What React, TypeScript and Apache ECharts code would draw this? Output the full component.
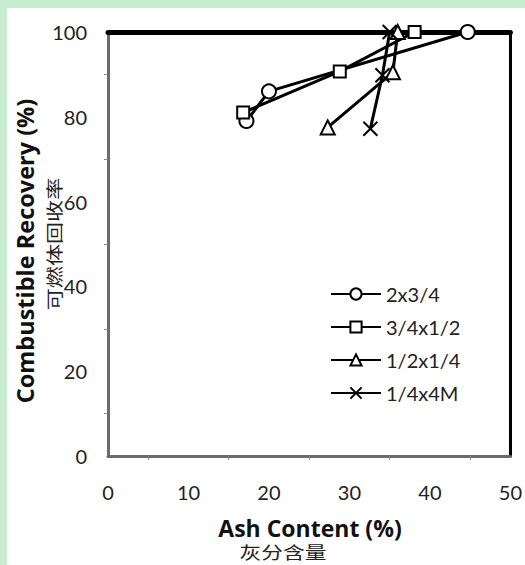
import React, { useEffect, useRef } from "react";
import * as echarts from "echarts";

const seriesNames = ["2x3/4", "3/4x1/2", "1/2x1/4", "1/4x4M"];
const s1: [number, number][] = [[17.2, 79], [20, 86], [44.7, 100]];
const s2: [number, number][] = [[16.8, 81], [28.8, 90.7], [38.1, 100]];
const s3: [number, number][] = [[27.3, 77.5], [35.4, 90.5], [36.0, 100]];
const s4: [number, number][] = [[32.6, 77.2], [34.1, 89.8], [35.0, 100]];
const xTicks = [0, 10, 20, 30, 40, 50];
const yTicks = [0, 20, 40, 60, 80, 100];

const X_SYMBOL = "path://M0,0L10,10M10,0L0,10";
const FONT = "Lato, 'Open Sans', sans-serif";
const TITLE_FONT = "'Open Sans', Lato, sans-serif";
const CJK = "'Noto Sans CJK SC'";

export default function App() {
  const ref = useRef<HTMLDivElement>(null);
  useEffect(() => {
    document.body.style.margin = "0";
    const chart = echarts.init(ref.current!, null, { renderer: "svg" });
    const mk = (name: string, data: [number, number][], symbol: string, size: number) => ({
      name,
      type: "line",
      data,
      symbol,
      symbolSize: size,
      showAllSymbol: true,
      lineStyle: { color: "#000", width: 3 },
      itemStyle: { color: "#fff", borderColor: "#000", borderWidth: 2 },
      z: 3,
    });
    const datas = [s1, s2, s3, s4];
    const syms = ["circle", "rect", "triangle", X_SYMBOL];
    const sizes = [14, 12, 14, 14];
    chart.setOption({
      animation: false,
      backgroundColor: "#fff",
      textStyle: { fontFamily: FONT },
      grid: { left: 101, right: 12, top: 24, bottom: 109 },
      xAxis: [
        {
          type: "value",
          min: 0,
          max: 50,
          interval: 10,
          position: "bottom",
          axisLine: { show: true, onZero: false, lineStyle: { color: "#6b6b6b", width: 3 } },
          axisTick: { show: false },
          minorTick: { show: true, splitNumber: 2, length: 4, lineStyle: { color: "#888" } },
          splitLine: { show: false },
          axisLabel: {
            color: "#222",
            fontSize: 20,
            margin: 26,
            fontFamily: FONT,
            formatter: (v: number) => (xTicks.includes(v) ? String(v) : ""),
          },
        },
        {
          type: "value",
          min: 0,
          max: 50,
          position: "top",
          axisLine: { show: true, onZero: false, lineStyle: { color: "#000", width: 5 } },
          axisTick: { show: false },
          axisLabel: { show: false },
          splitLine: { show: false },
        },
      ],
      yAxis: [
        {
          type: "value",
          min: 0,
          max: 100,
          interval: 20,
          position: "left",
          axisLine: { show: true, onZero: false, lineStyle: { color: "#6b6b6b", width: 3 } },
          axisTick: { show: false },
          minorTick: { show: true, splitNumber: 2, length: 4, lineStyle: { color: "#888" } },
          splitLine: { show: false },
          axisLabel: {
            color: "#222",
            fontSize: 20,
            margin: 21,
            fontFamily: FONT,
            formatter: (v: number) => (yTicks.includes(v) ? String(v) : ""),
          },
        },
        {
          type: "value",
          min: 0,
          max: 100,
          position: "right",
          axisLine: { show: true, onZero: false, lineStyle: { color: "#000", width: 3 } },
          axisTick: { show: false },
          axisLabel: { show: false },
          splitLine: { show: false },
        },
      ],
      legend: {
        orient: "vertical",
        left: 323,
        top: 276,
        padding: 0,
        itemWidth: 50,
        itemHeight: 14,
        itemGap: 13,
        textStyle: { fontSize: 20, color: "#222", fontFamily: FONT },
        data: seriesNames,
      },
      series: seriesNames.map((n, i) => mk(n, datas[i], syms[i], sizes[i])),
      graphic: [
        {
          type: "text",
          x: 18,
          y: 243,
          rotation: Math.PI / 2,
          style: {
            text: "Combustible Recovery (%)",
            fontSize: 23.5,
            fontWeight: "bold",
            fill: "#111",
            fontFamily: TITLE_FONT,
            align: "center",
            verticalAlign: "middle",
          },
        },
        {
          type: "text",
          x: 47,
          y: 236,
          rotation: Math.PI / 2,
          scaleX: 1.3,
          style: {
            text: "可燃体回收率",
            fontSize: 17,
            fill: "#222",
            fontFamily: CJK,
            align: "center",
            verticalAlign: "middle",
          },
        },
        {
          type: "text",
          x: 303,
          y: 520,
          style: {
            text: "Ash Content (%)",
            fontSize: 23,
            fontWeight: "bold",
            fill: "#111",
            fontFamily: TITLE_FONT,
            align: "center",
            verticalAlign: "middle",
          },
        },
        {
          type: "text",
          x: 276,
          y: 544,
          scaleX: 1.28,
          style: {
            text: "灰分含量",
            fontSize: 17,
            fill: "#222",
            fontFamily: CJK,
            align: "center",
            verticalAlign: "middle",
          },
        },
      ],
    });
    return () => chart.dispose();
  }, []);
  return (
    <div style={{ width: 525, height: 565, background: "#c9ecd0", paddingLeft: 7, paddingTop: 8, boxSizing: "border-box" }}>
      <div ref={ref} style={{ width: 518, height: 557 }} />
    </div>
  );
}
